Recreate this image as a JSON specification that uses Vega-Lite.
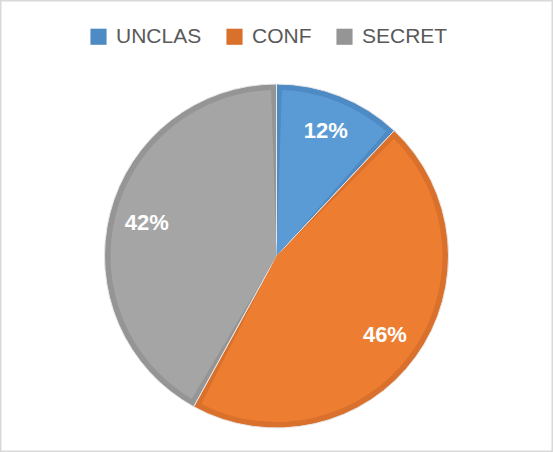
{
  "$schema": "https://vega.github.io/schema/vega-lite/v6.json",
  "width": 553,
  "height": 452,
  "autosize": {"type": "fit", "contains": "padding"},
  "padding": 0,
  "background": "white",
  "view": {"stroke": "#D9D9D9", "strokeWidth": 3},
  "data": {"values": [
    {"cat": "UNCLAS", "v": 0.12},
    {"cat": "CONF", "v": 0.46},
    {"cat": "SECRET", "v": 0.42}
  ]},
  "transform": [
    {"calculate": "indexof(['UNCLAS','CONF','SECRET'], datum.cat)", "as": "k"}
  ],
  "encoding": {
    "theta": {"field": "v", "type": "quantitative", "stack": true},
    "order": {"field": "k", "type": "quantitative", "sort": "ascending"}
  },
  "layer": [
    {
      "mark": {"type": "arc", "outerRadius": 172, "yOffset": 30, "stroke": "#E8E8E8", "strokeWidth": 1},
      "encoding": {
        "color": {
          "field": "cat", "type": "nominal",
          "sort": ["UNCLAS", "CONF", "SECRET"],
          "scale": {"domain": ["UNCLAS", "CONF", "SECRET"], "range": ["#4E8AC3", "#D9702B", "#959595"]},
          "legend": {
            "orient": "none", "direction": "horizontal", "legendX": 88, "legendY": 26,
            "title": null, "symbolType": "square", "symbolSize": 260, "symbolStrokeWidth": 0,
            "labelFontSize": 21, "labelFont": "Liberation Sans", "labelColor": "#595959",
            "labelOffset": 7, "columnPadding": 22, "symbolLimit": 0
          }
        }
      }
    },
    {
      "mark": {"type": "arc", "outerRadius": 166, "yOffset": 30, "padAngle": 0.065},
      "encoding": {
        "fill": {
          "field": "cat", "type": "nominal",
          "sort": ["UNCLAS", "CONF", "SECRET"],
          "scale": {"domain": ["UNCLAS", "CONF", "SECRET"], "range": ["#5B9BD5", "#ED7D31", "#A5A5A5"]},
          "legend": null
        }
      }
    },
    {
      "mark": {"type": "text", "radius": 134, "yOffset": 30, "fontSize": 22, "fontWeight": "bold", "font": "Liberation Sans", "color": "white"},
      "encoding": {
        "text": {"field": "v", "type": "quantitative", "format": ".0%"},
        "detail": {"field": "cat", "type": "nominal"}
      }
    }
  ]
}
